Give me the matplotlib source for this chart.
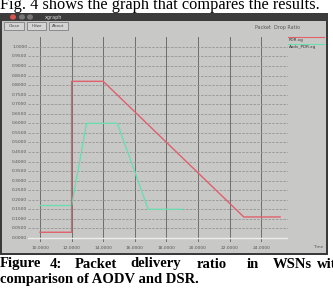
import matplotlib
matplotlib.use('Agg')
import matplotlib.pyplot as plt
from matplotlib.patches import Rectangle, Circle

# Data
time_pdr = [10, 12, 12, 14, 22.9, 25.2]
pdr = [0.03, 0.03, 0.82, 0.82, 0.11, 0.11]
time_aodv = [10, 12, 12.95, 14.9, 16.85, 19]
pdr_aodv = [0.17, 0.17, 0.60, 0.60, 0.15, 0.15]
x_ticks = [10, 12, 14, 16, 18, 20, 22, 24]
y_ticks = [i * 0.05 for i in range(21)]
legend_names = ['PDR.xg', 'Aodv_PDR.xg']
caption_words = ['Figure', '4:', 'Packet', 'delivery', 'ratio', 'in', 'WSNs', 'with']
caption_x = [0, 50, 75, 130, 197, 247, 273, 317]

W, H = 333, 297
fig = plt.figure(figsize=(W / 100, H / 100), dpi=100)
fig.patch.set_facecolor('white')


def px(x, y):
    # pixel coords (from top-left) -> figure fraction
    return x / W, 1 - y / H


def box(x0, y0, x1, y1, **kw):
    fx, fy = px(x0, y1)
    fig.patches.append(Rectangle((fx, fy), (x1 - x0) / W, (y1 - y0) / H,
                                 transform=fig.transFigure, zorder=-5, **kw))


# window chrome
box(0, 13, 328, 255, facecolor='#c8c8c6', edgecolor='none')
box(0, 13, 2, 255, facecolor='#3a3a3a', edgecolor='none')
box(326, 13, 328, 255, facecolor='#3a3a3a', edgecolor='none')
box(0, 253, 328, 255, facecolor='#3a3a3a', edgecolor='none')
box(0, 13, 328, 21, facecolor='#3c3c3c', edgecolor='none')
for cx, col in [(13, '#d9534f'), (22, '#777777'), (30, '#777777')]:
    fig.patches.append(Circle(px(cx, 17), 3 / W, transform=fig.transFigure,
                              facecolor=col, edgecolor='none', zorder=-4))
fig.text(*px(45, 17.5), 'xgraph', fontsize=3.5, color='#dddddd', va='center')
for x0, x1, name in [(4, 24, 'Close'), (27, 46, 'Hdwr'), (49, 68, 'About')]:
    box(x0, 22.5, x1, 30, facecolor='#d4d4d4', edgecolor='#707070', linewidth=0.5)
    fig.text(*px((x0 + x1) / 2, 26.3), name, fontsize=3, color='#444444',
             ha='center', va='center')

# plot area
ax = fig.add_axes([28 / W, (H - 242) / H, 260 / W, 205 / H])
ax.set_zorder(2)
ax.set_facecolor('none')
ax.set_xlim(9.24, 25.7)
ax.set_ylim(-0.021, 1.052)
for s in ax.spines.values():
    s.set_visible(False)
ax.set_xticks([])
ax.set_yticks([])

for xv in x_ticks:
    ax.axvline(xv, color='#6e6e6e', linewidth=0.7, zorder=1)
for yv in y_ticks[1:]:
    ax.axhline(yv, color='#959595', linewidth=0.6, linestyle=(0, (3, 1.5)), zorder=1)
ax.axhline(0, color='#ececec', linewidth=1.0, zorder=1)

ax.plot(time_aodv, pdr_aodv, color='#6fdcb0', linewidth=1.0, zorder=3)
ax.plot(time_pdr, pdr, color='#e0606c', linewidth=1.0, zorder=4)

# tick labels drawn like xgraph: outside the grid
for yv in y_ticks:
    ax.text(9.24 - 0.05, yv, '%.4f' % yv, fontsize=3.2, color='#555555',
            ha='right', va='center', clip_on=False)
for xv in x_ticks:
    ax.text(xv, -0.04, '%.4f' % xv, fontsize=3.2, color='#555555',
            ha='center', va='top', clip_on=False)

fig.text(*px(255, 28), 'Packet  Drop Ratio', fontsize=3.5, color='#555555', va='center')
fig.text(*px(313, 247), 'Time', fontsize=3, color='#555555', va='center')

# legend
for i, (name, col) in enumerate(zip(legend_names, ['#e0606c', '#6fdcb0'])):
    ly = 37 + i * 7
    fig.lines.append(plt.Line2D([288 / W, 324 / W], [px(0, ly)[1]] * 2,
                                transform=fig.transFigure, color=col, linewidth=0.8))
    fig.text(*px(289, ly + 3), name, fontsize=3, color='#333333', va='center')

# surrounding document text
fig.text(*px(0, 5), 'Fig. 4 shows the graph that compares the results.',
         fontsize=11.8, family='Liberation Serif', va='center')
for word, wx in zip(caption_words, caption_x):
    fig.text(*px(wx, 264), word, fontsize=10.5, family='Liberation Serif',
             weight='bold', va='center')
fig.text(*px(0, 279), 'comparison of AODV and DSR.',
         fontsize=10.5, family='Liberation Serif', weight='bold', va='center')

plt.savefig('out.png', dpi=100)
